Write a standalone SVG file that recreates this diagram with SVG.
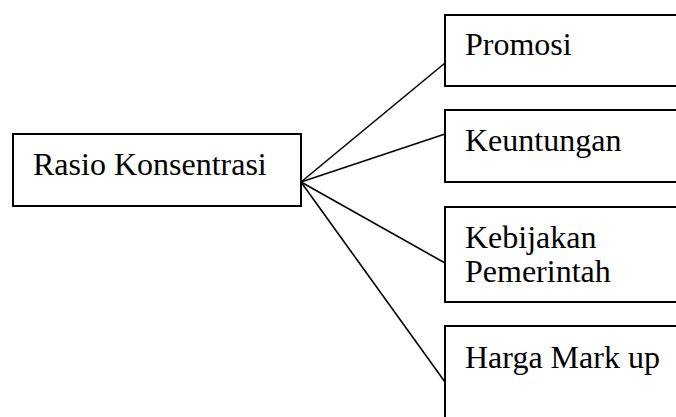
<svg xmlns="http://www.w3.org/2000/svg" width="676" height="417" viewBox="0 0 676 417">
<style>
.box{fill:#ffffff;stroke:#000000;stroke-width:2}
.lbl{font-family:"Liberation Serif","Times New Roman",serif;font-size:32px;fill:#000000}
.con line{stroke:#000000;stroke-width:1.6}
</style>
<rect width="676" height="417" fill="#ffffff"/>
<g id="connectors" class="con">
<line x1="301" y1="182" x2="445" y2="63"/>
<line x1="301" y1="182" x2="445" y2="134"/>
<line x1="301" y1="182" x2="445" y2="263"/>
<line x1="301" y1="182" x2="445" y2="382"/>
</g>
<g id="rasio">
<rect class="box" x="13" y="134" width="288" height="72"/>
<text class="lbl" x="33" y="175">Rasio Konsentrasi</text>
</g>
<g id="promosi">
<rect class="box" x="445" y="15" width="250" height="71"/>
<text class="lbl" x="465" y="55">Promosi</text>
</g>
<g id="keuntungan">
<rect class="box" x="445" y="110" width="250" height="72"/>
<text class="lbl" x="465" y="151">Keuntungan</text>
</g>
<g id="kebijakan">
<rect class="box" x="445" y="207" width="250" height="95"/>
<text class="lbl" x="465" y="248">Kebijakan</text>
<text class="lbl" x="465" y="282">Pemerintah</text>
</g>
<g id="harga">
<rect class="box" x="445" y="326" width="250" height="110"/>
<text class="lbl" x="465" y="368">Harga Mark up</text>
</g>
</svg>
